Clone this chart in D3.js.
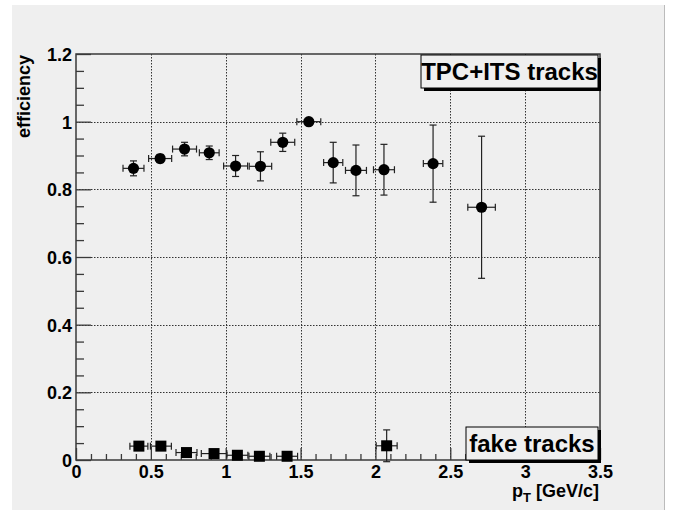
<!DOCTYPE html>
<html>
<head>
<meta charset="utf-8">
<script src="https://cdn.jsdelivr.net/npm/d3@7"></script>
<style>
  body { margin: 0; background: #fff; }
  svg text { font-family: "Liberation Sans", Arial, sans-serif; font-weight: bold; fill: #000; }
</style>
</head>
<body>
<svg id="chart" width="674" height="510"></svg>
<script>
// TPC+ITS tracks: pT, efficiency and errors
var ptVals = [0.384, 0.562, 0.725, 0.89, 1.066, 1.232, 1.381, 1.555, 1.718, 1.87, 2.057, 2.385, 2.709];
var ptErrs = [0.07, 0.077, 0.08, 0.066, 0.08, 0.075, 0.08, 0.08, 0.064, 0.07, 0.07, 0.065, 0.092];
var effVals = [0.862, 0.891, 0.919, 0.908, 0.869, 0.868, 0.939, 1.0, 0.879, 0.856, 0.858, 0.876, 0.747];
var effErrs = [0.022, 0.012, 0.02, 0.02, 0.031, 0.043, 0.027, 0, 0.06, 0.075, 0.075, 0.114, 0.21];

// fake tracks
var fakePt = [0.42, 0.567, 0.738, 0.922, 1.078, 1.225, 1.41, 2.075];
var fakePtErrs = [0.06, 0.07, 0.07, 0.085, 0.07, 0.07, 0.07, 0.07];
var fakeVals = [0.041, 0.041, 0.022, 0.019, 0.014, 0.011, 0.011, 0.042];
var fakeErrs = [0.008, 0.008, 0.006, 0.006, 0.005, 0.004, 0.004, 0.047];

var xTicks = [0, 0.5, 1, 1.5, 2, 2.5, 3, 3.5];
var yTicks = [0, 0.2, 0.4, 0.6, 0.8, 1, 1.2];

const LEFT = 76, RIGHT = 600, TOP = 54, BOTTOM = 460;
const LINE_COL = "#3a3a3a";

const svg = d3.select("#chart");

// pad background
svg.append("rect").attr("x", 12).attr("y", 5).attr("width", 652).attr("height", 505)
    .attr("fill", "#efefef");
svg.append("line").attr("x1", 664.5).attr("x2", 664.5).attr("y1", 5).attr("y2", 510)
    .attr("stroke", "#bbb").attr("stroke-width", 1);

const x = d3.scaleLinear().domain([0, 3.5]).range([LEFT, RIGHT]);
const y = d3.scaleLinear().domain([0, 1.2]).range([BOTTOM, TOP]);

// grid
const grid = svg.append("g").attr("stroke", "#333").attr("stroke-width", 1)
    .attr("stroke-dasharray", "1.5,1.5");
grid.selectAll("line.gx").data(xTicks.slice(1, -1)).enter().append("line")
    .attr("x1", d => Math.round(x(d)) + 0.5).attr("x2", d => Math.round(x(d)) + 0.5)
    .attr("y1", TOP).attr("y2", BOTTOM);
grid.selectAll("line.gy").data(yTicks.slice(1, -1)).enter().append("line")
    .attr("y1", d => Math.round(y(d)) + 0.5).attr("y2", d => Math.round(y(d)) + 0.5)
    .attr("x1", LEFT).attr("x2", RIGHT);

// minor ticks
const xMinor = d3.range(0, 36).map(i => i / 10).filter(v => Math.round(v * 10) % 5 !== 0);
const yMinor = d3.range(0, 25).map(i => i / 20).filter(v => Math.round(v * 20) % 4 !== 0);

const xMinorAxis = svg.append("g").attr("transform", `translate(0,${BOTTOM})`)
    .call(d3.axisBottom(x).tickValues(xMinor).tickSize(-6).tickFormat(""));
const yMinorAxis = svg.append("g").attr("transform", `translate(${LEFT},0)`)
    .call(d3.axisLeft(y).tickValues(yMinor).tickSize(-8).tickFormat(""));

const xAxis = svg.append("g").attr("transform", `translate(0,${BOTTOM})`)
    .call(d3.axisBottom(x).tickValues(xTicks).tickSizeInner(-12).tickSizeOuter(0).tickPadding(5)
        .tickFormat(d3.format("")));
const yAxis = svg.append("g").attr("transform", `translate(${LEFT},0)`)
    .call(d3.axisLeft(y).tickValues(yTicks).tickSizeInner(-15).tickSizeOuter(0).tickPadding(4)
        .tickFormat(d3.format("")));

[xMinorAxis, yMinorAxis, xAxis, yAxis].forEach(function (g) {
    g.selectAll("path").remove();
    g.selectAll("line").attr("stroke", LINE_COL).attr("stroke-width", 1.3);
});
xAxis.selectAll("text").style("font-size", "18px").attr("fill", "#000");
yAxis.selectAll("text").style("font-size", "18px").attr("fill", "#000").attr("dy", "0.36em");

// frame
svg.append("rect").attr("x", LEFT).attr("y", TOP).attr("width", RIGHT - LEFT).attr("height", BOTTOM - TOP)
    .attr("fill", "none").attr("stroke", LINE_COL).attr("stroke-width", 1.5);

// error bars + markers
function drawSeries(xs, xe, ys, ye, shape) {
    const data = xs.map((v, i) => ({x: v, xe: xe[i], y: ys[i], ye: ye[i]}));
    const g = svg.append("g").attr("stroke", "#222").attr("stroke-width", 1.2);
    const CAP = 3.5;
    data.forEach(function (d) {
        const cx = x(d.x), cy = y(d.y);
        const xl = x(d.x - d.xe), xr = x(d.x + d.xe);
        g.append("line").attr("x1", xl).attr("x2", xr).attr("y1", cy).attr("y2", cy);
        g.append("line").attr("x1", xl).attr("x2", xl).attr("y1", cy - CAP).attr("y2", cy + CAP);
        g.append("line").attr("x1", xr).attr("x2", xr).attr("y1", cy - CAP).attr("y2", cy + CAP);
        if (d.ye > 0) {
            const yt = y(d.y + d.ye), yb = y(d.y - d.ye);
            g.append("line").attr("x1", cx).attr("x2", cx).attr("y1", yt).attr("y2", yb);
            g.append("line").attr("x1", cx - CAP).attr("x2", cx + CAP).attr("y1", yt).attr("y2", yt);
            g.append("line").attr("x1", cx - CAP).attr("x2", cx + CAP).attr("y1", yb).attr("y2", yb);
        }
    });
    if (shape === "circle") {
        svg.append("g").selectAll("circle").data(data).enter().append("circle")
            .attr("cx", d => x(d.x)).attr("cy", d => y(d.y)).attr("r", 5.6).attr("fill", "#000");
    } else {
        svg.append("g").selectAll("rect").data(data).enter().append("rect")
            .attr("x", d => x(d.x) - 5.5).attr("y", d => y(d.y) - 5.5)
            .attr("width", 11).attr("height", 11).attr("fill", "#000");
    }
}
drawSeries(ptVals, ptErrs, effVals, effErrs, "circle");
drawSeries(fakePt, fakePtErrs, fakeVals, fakeErrs, "square");

// labelled boxes with shadow
function labelBox(x0, y0, w, h, txt) {
    svg.append("rect").attr("x", x0 + 3).attr("y", y0 + 3).attr("width", w).attr("height", h).attr("fill", "#000");
    svg.append("rect").attr("x", x0).attr("y", y0).attr("width", w).attr("height", h)
        .attr("fill", "#efefef").attr("stroke", "#000").attr("stroke-width", 1);
    svg.append("text").attr("x", x0 + w / 2).attr("y", y0 + h / 2).attr("dy", "0.36em")
        .attr("text-anchor", "middle").style("font-size", "24px").text(txt);
}
labelBox(421, 55, 177, 33, "TPC+ITS tracks");
labelBox(466, 427, 132, 33, "fake tracks");

// axis titles
svg.append("text").attr("transform", "translate(30,55) rotate(-90)")
    .attr("text-anchor", "end").style("font-size", "18px").text("efficiency");

const xt = svg.append("text").attr("x", 599).attr("y", 497).attr("text-anchor", "end")
    .style("font-size", "18px");
xt.append("tspan").text("p");
xt.append("tspan").attr("dy", 5).style("font-size", "13px").text("T");
xt.append("tspan").attr("dy", -5).text(" [GeV/c]");
</script>
</body>
</html>
